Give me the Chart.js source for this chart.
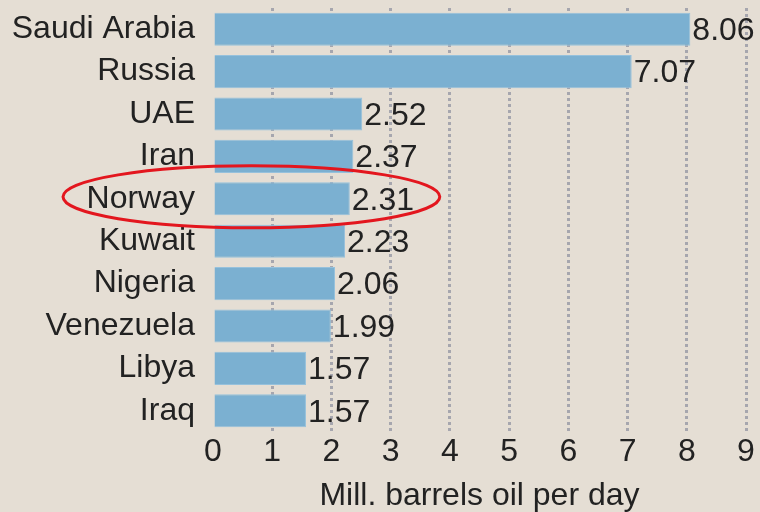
<!DOCTYPE html>
<html>
<head>
<meta charset="utf-8">
<script src="https://cdn.jsdelivr.net/npm/chart.js@4"></script>
<style>
  html, body { margin: 0; padding: 0; background: #e5ded4; }
  #wrap { width: 760px; height: 512px; }
</style>
</head>
<body>
<div id="wrap"><canvas id="oilChart" width="760" height="512"></canvas></div>
<script>
  const countries = ['Saudi Arabia', 'Russia', 'UAE', 'Iran', 'Norway', 'Kuwait', 'Nigeria', 'Venezuela', 'Libya', 'Iraq'];
  const production = [8.06, 7.07, 2.52, 2.37, 2.31, 2.23, 2.06, 1.99, 1.57, 1.57];
  const xTicks = [0, 1, 2, 3, 4, 5, 6, 7, 8, 9];
  const axisTitle = 'Mill. barrels oil per day';
  const highlighted = 'Norway';

  const FONT = '"Liberation Sans", Arial, sans-serif';
  const SIZE = 32;

  // value labels just past the end of each bar
  const valueLabels = {
    id: 'valueLabels',
    afterDatasetsDraw(chart) {
      const ctx = chart.ctx;
      const meta = chart.getDatasetMeta(0);
      ctx.save();
      ctx.font = SIZE + 'px ' + FONT;
      ctx.fillStyle = '#222222';
      ctx.textAlign = 'left';
      ctx.textBaseline = 'middle';
      meta.data.forEach((bar, i) => {
        ctx.fillText(production[i].toFixed(2), bar.x + 2, bar.y + 2);
      });
      ctx.restore();
    }
  };

  // red ring around the highlighted row
  const highlightRing = {
    id: 'highlightRing',
    afterDraw(chart) {
      const idx = countries.indexOf(highlighted);
      if (idx < 0) return;
      const bar = chart.getDatasetMeta(0).data[idx];
      const left = chart.chartArea.left - 150;
      const right = bar.x + 90;
      const ctx = chart.ctx;
      ctx.save();
      ctx.strokeStyle = '#e3161e';
      ctx.lineWidth = 3;
      ctx.beginPath();
      ctx.ellipse((left + right) / 2, bar.y - 2, (right - left) / 2, 31, 0, 0, Math.PI * 2);
      ctx.stroke();
      ctx.restore();
    }
  };

  const ctx = document.getElementById('oilChart').getContext('2d');
  new Chart(ctx, {
    type: 'bar',
    data: {
      labels: countries,
      datasets: [{
        data: production,
        backgroundColor: '#7bb0d1',
        borderColor: '#96c1dc',
        borderWidth: 1,
        barPercentage: 0.78,
        categoryPercentage: 1
      }]
    },
    options: {
      indexAxis: 'y',
      responsive: false,
      animation: false,
      layout: { padding: { top: 8, right: 14, bottom: 0, left: 0 } },
      plugins: {
        legend: { display: false },
        tooltip: { enabled: false }
      },
      scales: {
        x: {
          min: 0,
          max: 9,
          z: 1,
          afterBuildTicks: scale => { scale.ticks = xTicks.map(v => ({ value: v })); },
          afterFit: scale => { scale.height = 80; },
          grid: {
            color: c => (c.tick && c.tick.value === 0) ? 'rgba(0,0,0,0)' : '#a6a6ae',
            lineWidth: 3,
            drawTicks: false
          },
          border: { display: false, dash: [3, 3] },
          ticks: {
            padding: 4,
            maxRotation: 0,
            color: '#222222',
            font: { family: FONT, size: SIZE, lineHeight: 1 }
          },
          title: {
            display: true,
            text: axisTitle,
            color: '#222222',
            padding: { top: 9, bottom: 0 },
            font: { family: FONT, size: SIZE, lineHeight: 1 }
          }
        },
        y: {
          afterFit: scale => {
            scale.width = 213;
            scale.paddingTop = 0;
            scale.paddingBottom = 0;
          },
          grid: { display: false, drawTicks: false },
          border: { display: false },
          ticks: {
            autoSkip: false,
            padding: 18,
            color: '#222222',
            font: { family: FONT, size: SIZE, lineHeight: 1 }
          }
        }
      }
    },
    plugins: [valueLabels, highlightRing]
  });
</script>
</body>
</html>
